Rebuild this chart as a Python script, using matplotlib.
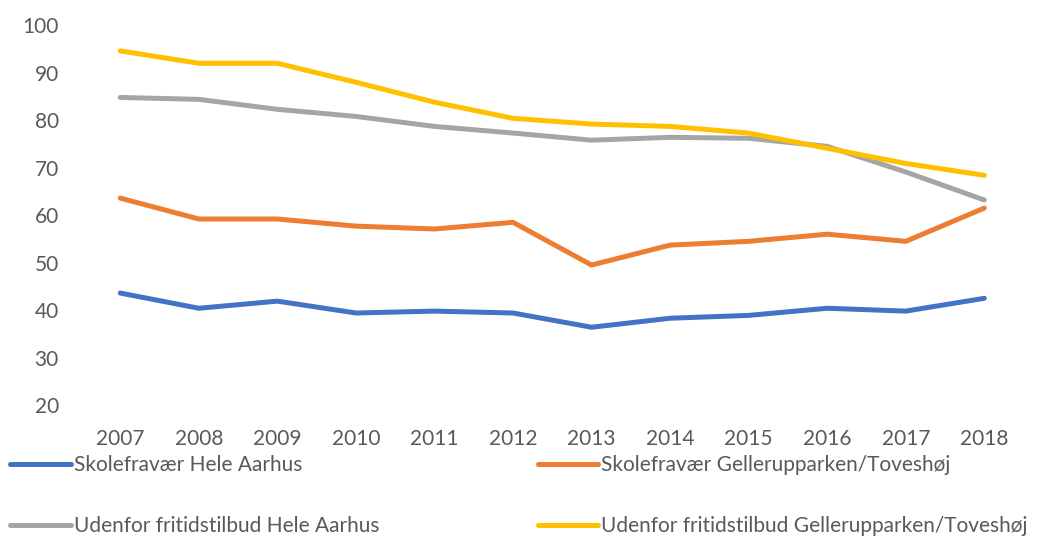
import matplotlib
matplotlib.use('Agg')
import matplotlib.pyplot as plt

years = [2007, 2008, 2009, 2010, 2011, 2012, 2013, 2014, 2015, 2016, 2017, 2018]

skole_aarhus = [43.6, 40.4, 41.9, 39.4, 39.8, 39.4, 36.4, 38.3, 38.9, 40.4, 39.8, 42.5]
skole_gellerup = [63.6, 59.2, 59.2, 57.7, 57.1, 58.5, 49.5, 53.7, 54.5, 56.0, 54.5, 61.5]
fritid_aarhus = [84.8, 84.4, 82.3, 80.8, 78.7, 77.3, 75.8, 76.4, 76.2, 74.5, 69.1, 63.2]
fritid_gellerup = [94.6, 92.0, 92.0, 88.0, 83.8, 80.4, 79.2, 78.7, 77.3, 74.1, 70.9, 68.4]

labels = ['Skolefravær Hele Aarhus', 'Skolefravær Gellerupparken/Toveshøj',
          'Udenfor fritidstilbud Hele Aarhus', 'Udenfor fritidstilbud Gellerupparken/Toveshøj']
colors = ['#4472C4', '#ED7D31', '#A5A5A5', '#FFC000']
TEXT = '#595959'

plt.rcParams['font.family'] = ['Lato', 'DejaVu Sans']

fig = plt.figure(figsize=(10.52, 5.38), dpi=100)
ax = fig.add_axes([0.077, 0.247, 0.896, 0.706])

series = [skole_aarhus, skole_gellerup, fritid_aarhus, fritid_gellerup]
lines = []
for vals, c, lab in zip(series, colors, labels):
    ln, = ax.plot(range(len(years)), vals, color=c, lw=3.6, label=lab,
                  solid_capstyle='round', solid_joinstyle='round')
    lines.append(ln)

ax.set_xlim(-0.5, len(years) - 0.5)
ax.set_ylim(20, 100)
ax.set_yticks(range(20, 101, 10))
ax.set_xticks(range(len(years)))
ax.set_xticklabels([str(y) for y in years])
for s in ax.spines.values():
    s.set_visible(False)
ax.tick_params(length=0, colors=TEXT, labelsize=15)
ax.tick_params(axis='x', pad=17)
ax.tick_params(axis='y', pad=16)

# legend: row 1 blue/orange, row 2 gray/yellow
order = [0, 2, 1, 3]
leg = fig.legend([lines[i] for i in order], [labels[i] for i in order],
                 ncol=2, loc='upper left', bbox_to_anchor=(0.002, 0.169),
                 frameon=False, fontsize=15, handlelength=2.9, handletextpad=0.15,
                 columnspacing=7.6, labelspacing=1.95, borderaxespad=0)
for t in leg.get_texts():
    t.set_color(TEXT)

fig.savefig('out.png', dpi=100)
